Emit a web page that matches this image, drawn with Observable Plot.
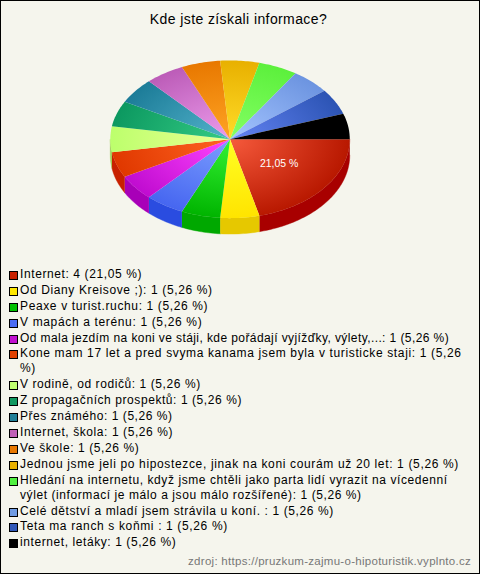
<!DOCTYPE html>
<html lang="cs"><head><meta charset="utf-8">
<script src="https://cdn.jsdelivr.net/npm/d3@7"></script>
<script src="https://cdn.jsdelivr.net/npm/@observablehq/plot@0.6"></script>
<style>
html,body{margin:0;padding:0;background:#f5f5ed}
#frame{position:relative;width:480px;height:574px;box-sizing:border-box;border:1px solid #000;background:#f5f5ed;font-family:"Liberation Sans",Arial,sans-serif;color:#000;overflow:hidden}
#title{position:absolute;left:0;top:10px;width:475px;text-align:center;font-size:14px;line-height:16px;letter-spacing:.4px}
#chart{position:absolute;left:-1px;top:39px}
#chart svg{display:block;background:transparent}
#legend{position:absolute;left:7px;top:266px;width:458px;font-size:12px;line-height:15px}
.row{position:relative;padding-left:12px;margin-bottom:.9px}
.sw{position:absolute;left:1px;top:4px;width:7px;height:7px;border:1px solid #000}
#source{position:absolute;right:8px;bottom:5px;font-size:11.5px;line-height:14px;color:#777;letter-spacing:.28px}
</style></head><body>
<div id="frame">
<div id="title"></div>
<div id="chart"></div>
<div id="legend"></div>
<div id="source"></div>
</div>
<script>
const titleText = "Kde jste získali informace?";
const sourceText = "zdroj: https://pruzkum-zajmu-o-hipoturistik.vyplnto.cz";
const categories = [
  "Internet","Od Diany Kreisove ;)","Peaxe v turist.ruchu","V mapách a terénu",
  "Od mala jezdím na koni ve stáji, kde pořádají vyjížďky, výlety,...",
  "Kone mam 17 let a pred svyma kanama jsem byla v turisticke staji",
  "V rodině, od rodičů","Z propagačních prospektů","Přes známého","Internet, škola","Ve škole",
  "Jednou jsme jeli po hipostezce, jinak na koni courám už 20 let",
  "Hledání na internetu, když jsme chtěli jako parta lidí vyrazit na vícedenní výlet (informací je málo a jsou málo rozšířené)",
  "Celé dětství a mladí jsem strávila u koní. ","Teta ma ranch s koňmi ","internet, letáky"
];
const counts = [4,1,1,1,1,1,1,1,1,1,1,1,1,1,1,1];
const percents = ["21,05 %","5,26 %","5,26 %","5,26 %","5,26 %","5,26 %","5,26 %","5,26 %","5,26 %","5,26 %","5,26 %","5,26 %","5,26 %","5,26 %","5,26 %","5,26 %"];
const tracking = [.6,.62,.63,.65,.41,.64,.58,.57,.55,.58,.6,.65,.58,.6,.64,.58];
const innerColors = ["#f65a3c","#ffff24","#34f234","#7c9eff","#ff44ff","#ff6422","#ecff94","#34cc84","#54b4cc","#ec9cec","#ffa424","#ffdc28","#84ff64","#a4c4ff","#6484f4","#000000"];
const rimColors = ["#b81800","#ffe400","#00b400","#4666f0","#c00cd0","#e03800","#bcff6c","#0c9860","#1c7c98","#bc5cb8","#e87800","#e8b000","#5cf03c","#6c94e0","#2c54b4","#000000"];
const wallColors = ["#a80000","#e6c800","#00a800","#2a4ce0","#a800b8","#c82000","#9ccc50"];
const swatchColors = ["#c82000","#ffe800","#00c000","#4a6cf4","#c010d0","#e04000","#c0ff70","#109860","#208098","#c060b8","#e87800","#e8b000","#50f040","#709ce4","#3058b8","#000000"];
const depth = 16/79;

const tau = 2*Math.PI;
const arcs = d3.pie().sort(null).startAngle(0).endAngle(tau)(counts);
function arcPts(a0,a1,dy=0){
  const n = Math.max(2,Math.ceil((a1-a0)/0.02));
  return d3.range(n+1).map(i=>{const t=a0+(a1-a0)*i/n;return {x:Math.cos(t),y:Math.sin(t)+dy};});
}
const faces = arcs.map(a=>[{x:0,y:0},...arcPts(a.startAngle,a.endAngle)]);
const walls = arcs.filter(a=>a.startAngle<Math.PI).map(a=>{
  const e=Math.min(a.endAngle,Math.PI);
  return [...arcPts(a.startAngle,e),...arcPts(a.startAngle,e,depth).reverse()];
});
const mid = (arcs[0].startAngle+arcs[0].endAngle)/2;
const labelData = [{x:Math.cos(mid)*0.52,y:Math.sin(mid)*0.5,t:percents[0]}];

function gradients(index,{x,y}){
  const defs = d3.create("svg:defs");
  arcs.forEach((a,i)=>{
    const g = defs.append("radialGradient").attr("id","sl"+i)
      .attr("gradientUnits","userSpaceOnUse").attr("cx",0).attr("cy",0).attr("r",1)
      .attr("gradientTransform",`translate(${x(0)},${y(0)}) scale(${x(1)-x(0)},${y(1)-y(0)})`);
    g.append("stop").attr("offset","0%").attr("stop-color",innerColors[i]);
    g.append("stop").attr("offset","100%").attr("stop-color",rimColors[i]);
  });
  return defs.node();
}

const plot = Plot.plot({
  width:480,height:210,margin:0,
  x:{domain:[-1,1],range:[110,350],axis:null},
  y:{domain:[-1,1],range:[20,178],axis:null},
  marks:[
    gradients,
    ...walls.map((w,i)=>Plot.line(w,{x:"x",y:"y",fill:wallColors[i],stroke:wallColors[i],strokeWidth:0.4})),
    ...faces.map((f,i)=>Plot.line(f,{x:"x",y:"y",fill:`url(#sl${i})`,stroke:"none"})),
    Plot.text(labelData,{x:"x",y:"y",text:"t",fill:"#fff",fontSize:10.5,fontWeight:"normal",fontFamily:"Liberation Sans, Arial, sans-serif"})
  ]
});
document.getElementById("chart").append(plot);
document.getElementById("title").textContent = titleText;
document.getElementById("source").textContent = sourceText;
const legend = document.getElementById("legend");
categories.forEach((c,i)=>{
  const r=document.createElement("div");r.className="row";r.style.letterSpacing=tracking[i]+"px";
  const s=document.createElement("span");s.className="sw";s.style.background=swatchColors[i];
  r.append(s,document.createTextNode(`${c}: ${counts[i]} (${percents[i]})`));
  legend.append(r);
});
</script>
</body></html>
